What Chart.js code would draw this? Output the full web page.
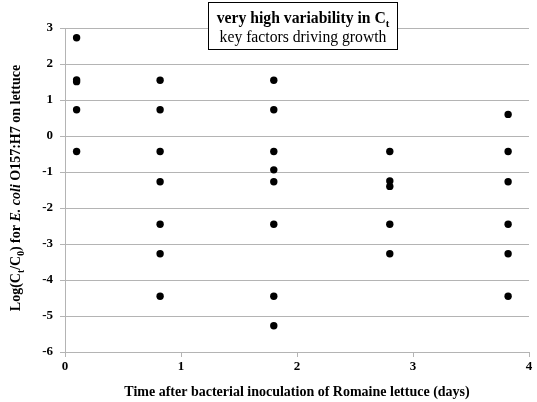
<!DOCTYPE html>
<html>
<head>
<meta charset="utf-8">
<script src="https://cdn.jsdelivr.net/npm/chart.js@4"></script>
<style>
  html, body { margin: 0; padding: 0; background: #fff; }
  #wrap { width: 537px; height: 402px; }
</style>
</head>
<body>
<div id="wrap"><canvas id="chart" width="537" height="402"></canvas></div>
<script>
// sampling days (x) and log reductions at each day (y)
const days = [0.1, 0.82, 1.8, 2.8, 3.82];
const valsDay0 = [2.73, 1.56, 1.51, 0.73, -0.43];
const valsDay1 = [1.55, 0.73, -0.43, -1.27, -2.45, -3.27, -4.45];
const valsDay2 = [1.55, 0.73, -0.43, -0.94, -1.27, -2.45, -4.45, -5.27];
const valsDay3 = [-0.43, -1.25, -1.4, -2.45, -3.27];
const valsDay4 = [0.6, -0.43, -1.27, -2.45, -3.27, -4.45];
const yTicks = [-6, -5, -4, -3, -2, -1, 0, 1, 2, 3];
const xTicks = [0, 1, 2, 3, 4];

const groups = [valsDay0, valsDay1, valsDay2, valsDay3, valsDay4];
const points = [];
groups.forEach((vals, i) => {
  vals.forEach(v => points.push({ x: days[i], y: v }));
});

const SERIF = '"Liberation Serif", "Times New Roman", serif';
const GRID = '#b4b4b4';

// draws text runs [{t, style, sub}] left to right starting at x
function drawRuns(ctx, runs, x, y, size) {
  runs.forEach(r => {
    const fs = r.sub ? size * 0.68 : size;
    ctx.font = (r.style || '') + ' ' + fs + 'px ' + SERIF;
    ctx.fillText(r.t, x, y + (r.sub ? size * 0.25 : 0));
    x += ctx.measureText(r.t).width;
  });
  return x;
}
function runsWidth(ctx, runs, size) {
  let w = 0;
  runs.forEach(r => {
    const fs = r.sub ? size * 0.68 : size;
    ctx.font = (r.style || '') + ' ' + fs + 'px ' + SERIF;
    w += ctx.measureText(r.t).width;
  });
  return w;
}

const extras = {
  id: 'extras',
  afterDraw(chart) {
    const ctx = chart.ctx;
    ctx.save();
    ctx.fillStyle = '#000';
    ctx.textBaseline = 'alphabetic';

    // y axis title with subscripts and italic
    const yRuns = [
      { t: 'Log(C', style: 'bold' }, { t: 't', style: 'bold', sub: true },
      { t: '/C', style: 'bold' }, { t: '0', style: 'bold', sub: true },
      { t: ') for ', style: 'bold' }, { t: 'E. coli', style: 'italic bold' },
      { t: ' O157:H7 on lettuce', style: 'bold' }
    ];
    const ySize = 14;
    const yw = runsWidth(ctx, yRuns, ySize);
    ctx.save();
    ctx.translate(20, 188);
    ctx.rotate(-Math.PI / 2);
    drawRuns(ctx, yRuns, -yw / 2, 0, ySize);
    ctx.restore();

    // annotation box
    const bx = 208, by = 2, bw = 189, bh = 47;
    ctx.fillStyle = '#fff';
    ctx.fillRect(bx, by, bw, bh);
    ctx.strokeStyle = '#000';
    ctx.lineWidth = 1;
    ctx.strokeRect(bx + 0.5, by + 0.5, bw, bh);
    ctx.fillStyle = '#000';
    const l1 = [{ t: 'very high variability in C', style: 'bold' }, { t: 't', style: 'bold', sub: true }];
    const l2 = [{ t: 'key factors driving growth', style: '' }];
    const s = 15.7;
    const cx = bx + bw / 2 + 0.5;
    drawRuns(ctx, l1, cx - runsWidth(ctx, l1, s) / 2, 23, s);
    drawRuns(ctx, l2, cx - runsWidth(ctx, l2, s) / 2, 42, s);
    ctx.restore();
  }
};

new Chart(document.getElementById('chart'), {
  type: 'scatter',
  data: {
    datasets: [{
      data: points,
      backgroundColor: '#000',
      borderColor: '#000',
      borderWidth: 0,
      pointRadius: 3.7,
      pointHoverRadius: 3.7
    }]
  },
  options: {
    responsive: false,
    animation: false,
    layout: { padding: { top: 28, right: 8, left: 0, bottom: 0 } },
    plugins: {
      legend: { display: false },
      tooltip: { enabled: false }
    },
    scales: {
      x: {
        type: 'linear',
        min: 0,
        max: 4,
        afterBuildTicks: axis => { axis.ticks = xTicks.map(v => ({ value: v })); },
        afterFit: axis => { axis.height = 50; },
        border: { color: GRID, width: 1 },
        grid: { drawOnChartArea: false, drawTicks: true, tickLength: 5, color: GRID },
        ticks: {
          color: '#000',
          font: { family: SERIF, size: 13, weight: 'bold' },
          padding: 2,
          maxRotation: 0
        },
        title: {
          display: true,
          text: 'Time after bacterial inoculation of Romaine lettuce (days)',
          color: '#000',
          font: { family: SERIF, size: 14, weight: 'bold' },
          padding: { top: 6, bottom: 1 }
        }
      },
      y: {
        type: 'linear',
        min: -6,
        max: 3,
        afterBuildTicks: axis => { axis.ticks = yTicks.map(v => ({ value: v })); },
        afterFit: axis => { axis.width = 65; },
        border: { color: GRID, width: 1 },
        grid: { color: GRID, lineWidth: 1, drawTicks: true, tickLength: 5 },
        ticks: {
          color: '#000',
          font: { family: SERIF, size: 13, weight: 'bold' },
          padding: 7
        }
      }
    }
  },
  plugins: [extras]
});
</script>
</body>
</html>
